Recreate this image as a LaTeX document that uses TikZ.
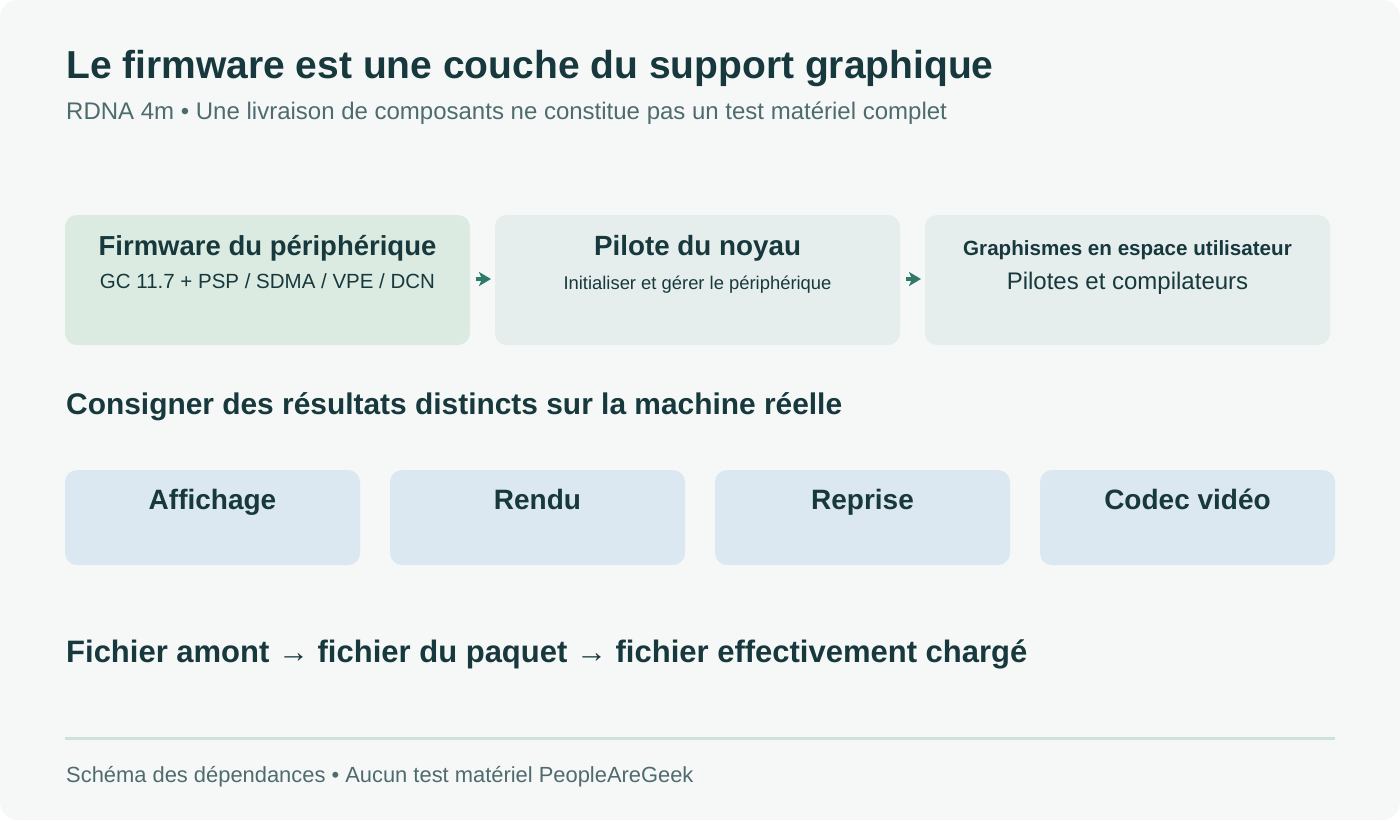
\documentclass[tikz,border=0pt]{standalone}
\usepackage{fontspec}
\setmainfont{Liberation Sans}
\usetikzlibrary{arrows.meta}
\definecolor{bgc}{HTML}{F6F8F7}
\definecolor{ink}{HTML}{17393D}
\definecolor{grayink}{HTML}{4E6B6E}
\definecolor{boxgreen}{HTML}{DCEBE1}
\definecolor{boxgray}{HTML}{E5EEEC}
\definecolor{boxblue}{HTML}{DBE8F1}
\definecolor{rulec}{HTML}{CFE0DF}
\definecolor{arrc}{HTML}{2F7A69}
\newcommand{\fs}[1]{\fontsize{#1}{#1}\selectfont}
\tikzset{
  panel/.style={rounded corners=12pt, draw=none, inner sep=0pt},
  txt/.style={inner sep=0pt, text=ink, anchor=base},
  flow/.style={draw=arrc, line width=4pt, -{Stealth[length=12pt,width=14pt,inset=3pt]}, shorten <=6pt, shorten >=4pt}
}
\begin{document}
\begin{tikzpicture}[x=1pt,y=-1pt]
\useasboundingbox (0,0) rectangle (1400,820);
\fill[white] (0,0) rectangle (1400,820);
\fill[bgc, rounded corners=18pt] (0,0) rectangle (1400,820);

\node[txt, anchor=base west] (title) at (66,78) {\fs{39}\bfseries Le firmware est une couche du support graphique};
\node[txt, anchor=base west, text=grayink] (sub) at (66,119) {\fs{24}RDNA 4m • Une livraison de composants ne constitue pas un test matériel complet};

% row 1
\path[panel, fill=boxgreen] (65,215) rectangle (470,345);
\path[panel, fill=boxgray] (495,215) rectangle (900,345);
\path[panel, fill=boxgray] (925,215) rectangle (1330,345);
\coordinate (b1e) at (470,279);
\coordinate (b2w) at (495,279);
\coordinate (b2e) at (900,279);
\coordinate (b3w) at (925,279);

\node[txt] (t1) at (267.5,255) {\fs{27.5}\bfseries Firmware du périphérique};
\node[txt] (s1) at (267.5,288) {\fs{20.5}GC 11.7 + PSP / SDMA / VPE / DCN};
\node[txt] (t2) at (697.5,255) {\fs{27.8}\bfseries Pilote du noyau};
\node[txt] (s2) at (697.5,289) {\fs{18.4}Initialiser et gérer le périphérique};
\node[txt] (t3) at (1127.5,255) {\fs{20.6}\bfseries Graphismes en espace utilisateur};
\node[txt] (s3) at (1127.5,289) {\fs{24}Pilotes et compilateurs};

\draw[flow] (b1e) -- (b2w);
\draw[flow] (b2e) -- (b3w);

\node[txt, anchor=base west] (sec) at (66,414) {\fs{29.9}\bfseries Consigner des résultats distincts sur la machine réelle};

% row 2
\path[panel, fill=boxblue] (65,470) rectangle (360,565);
\path[panel, fill=boxblue] (390,470) rectangle (685,565);
\path[panel, fill=boxblue] (715,470) rectangle (1010,565);
\path[panel, fill=boxblue] (1040,470) rectangle (1335,565);
\node[txt] (r1) at (212.5,509) {\fs{28}\bfseries Affichage};
\node[txt] (r2) at (537.5,509) {\fs{28}\bfseries Rendu};
\node[txt] (r3) at (862.5,509) {\fs{28}\bfseries Reprise};
\node[txt] (r4) at (1187.5,509) {\fs{28}\bfseries Codec vidéo};

\node[txt, anchor=base west] (chain) at (66,662) {\fs{31}\bfseries Fichier amont → fichier du paquet → fichier effectivement chargé};

\draw[rulec, line width=3pt] (65,738) -- (1335,738);
\node[txt, anchor=base west, text=grayink] (foot) at (66,782) {\fs{21.9}Schéma des dépendances • Aucun test matériel PeopleAreGeek};
\end{tikzpicture}
\end{document}
